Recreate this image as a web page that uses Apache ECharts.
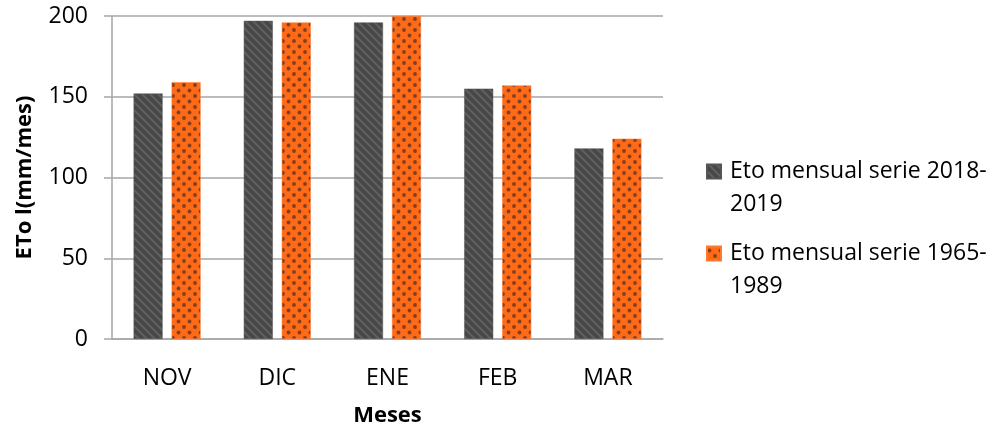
<!DOCTYPE html>
<html>
<head>
<meta charset="utf-8">
<script src="https://cdn.jsdelivr.net/npm/echarts@6/dist/echarts.min.js"></script>
<style>
  html, body { margin: 0; padding: 0; background: #fff; }
  #chart { width: 992px; height: 432px; }
</style>
</head>
<body>
<div id="chart"></div>
<script>
// Monthly reference evapotranspiration (mm/month)
const months = ['NOV', 'DIC', 'ENE', 'FEB', 'MAR'];
const serie2018 = [152, 197, 196, 155, 118];
const serie1965 = [159, 196, 200, 157, 124];
const seriesNames = ['Eto mensual serie 2018-2019', 'Eto mensual serie 1965-1989'];
const legendLines = {
  'Eto mensual serie 2018-2019': 'Eto mensual serie 2018-\n2019',
  'Eto mensual serie 1965-1989': 'Eto mensual serie 1965-\n1989'
};
const yTicks = [0, 50, 100, 150, 200];

const FONT = '"Open Sans", "Noto Sans", sans-serif';
const LINE_H = 33;

// Diagonal-stripe fill for the dark series
function stripePattern() {
  const c = document.createElement('canvas');
  c.width = 8; c.height = 8;
  const g = c.getContext('2d');
  g.fillStyle = '#474747';
  g.fillRect(0, 0, 8, 8);
  g.strokeStyle = '#5f5f5f';
  g.lineWidth = 2.2;
  g.beginPath();
  g.moveTo(-2, -2); g.lineTo(10, 10);
  g.moveTo(-6, 2); g.lineTo(2, 10);
  g.moveTo(2, -6); g.lineTo(14, 6);
  g.stroke();
  return { image: c, repeat: 'repeat' };
}

// Staggered dot fill for the orange series
function dotPattern() {
  const c = document.createElement('canvas');
  c.width = 11; c.height = 11;
  const g = c.getContext('2d');
  g.fillStyle = '#ff6a17';
  g.fillRect(0, 0, 11, 11);
  g.fillStyle = 'rgba(115,58,36,0.9)';
  [[2.5, 2.5], [8, 8]].forEach(([x, y]) => {
    g.beginPath(); g.arc(x, y, 1.9, 0, Math.PI * 2); g.fill();
  });
  return { image: c, repeat: 'repeat' };
}

// Legend swatch sitting beside the first of two text lines:
// two zero-length subpaths stretch the bounding box to the full text block.
const blockH = LINE_H * 2;
const sq = 14;
const sqTop = LINE_H / 2 - sq / 2;
const legendIcon = 'path://M0,0L0,0M0,' + blockH + 'L0,' + blockH +
  'M0,' + sqTop + 'L' + sq + ',' + sqTop + 'L' + sq + ',' + (sqTop + sq) + 'L0,' + (sqTop + sq) + 'Z';

const chart = echarts.init(document.getElementById('chart'), null, { renderer: 'canvas' });

chart.setOption({
  animation: false,
  backgroundColor: '#fff',
  textStyle: { fontFamily: FONT },
  grid: { left: 112, top: 16, width: 551, height: 327, containLabel: false },
  legend: {
    orient: 'vertical',
    left: 706,
    top: 154,
    padding: 0,
    itemWidth: sq,
    itemHeight: blockH,
    itemGap: 14,
    icon: legendIcon,
    data: seriesNames,
    formatter: name => legendLines[name],
    textStyle: { fontFamily: FONT, fontSize: 23, color: '#000', lineHeight: LINE_H, padding: [0, 0, 0, 4] }
  },
  xAxis: {
    type: 'category',
    data: months,
    name: 'Meses',
    nameLocation: 'middle',
    nameGap: 66,
    nameTextStyle: { fontFamily: FONT, fontSize: 22, fontWeight: 'bold', color: '#000' },
    axisLine: { lineStyle: { color: '#a6a6a6', width: 1.5 } },
    axisTick: { show: false },
    axisLabel: { fontFamily: FONT, fontSize: 23, color: '#000', margin: 28 }
  },
  yAxis: {
    type: 'value',
    min: 0,
    max: 200,
    interval: 50,
    name: 'ETo l(mm/mes)',
    nameLocation: 'middle',
    nameGap: 76,
    nameTextStyle: { fontFamily: FONT, fontSize: 22, fontWeight: 'bold', color: '#000' },
    axisLine: { show: true, lineStyle: { color: '#a6a6a6', width: 1.5 } },
    axisTick: { show: true, length: 8, lineStyle: { color: '#a6a6a6', width: 1.5 } },
    axisLabel: {
      fontFamily: FONT, fontSize: 23, color: '#000', margin: 24,
      formatter: v => (yTicks.includes(v) ? String(v) : '')
    },
    splitLine: { lineStyle: { color: '#a6a6a6', width: 1.5 } }
  },
  series: [
    {
      name: seriesNames[0],
      type: 'bar',
      data: serie2018,
      barWidth: 29,
      barGap: '31%',
      itemStyle: { color: stripePattern(), borderColor: '#555', borderWidth: 0.5 }
    },
    {
      name: seriesNames[1],
      type: 'bar',
      data: serie1965,
      barWidth: 29,
      barGap: '31%',
      itemStyle: { color: dotPattern(), borderColor: '#ff7a30', borderWidth: 0.5 }
    }
  ]
});
</script>
</body>
</html>
